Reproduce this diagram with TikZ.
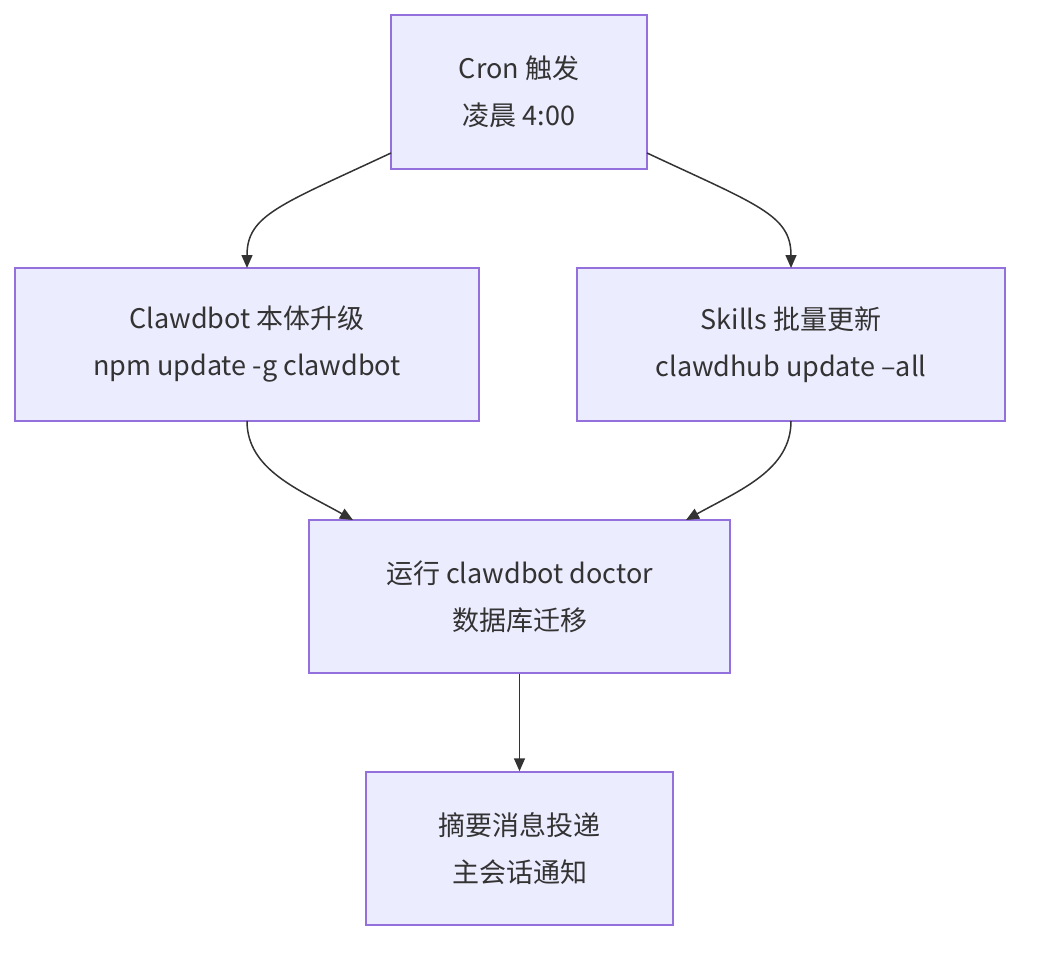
\documentclass[tikz,border=0pt]{standalone}
\usepackage{fontspec}
\setmainfont{Noto Sans CJK SC}
\usetikzlibrary{arrows.meta}
\definecolor{nfill}{HTML}{ECECFF}
\definecolor{nstroke}{HTML}{9370DB}
\definecolor{txt}{HTML}{333333}
\begin{document}
\begin{tikzpicture}[x=1pt,y=-1pt,
  box/.style={draw=nstroke,fill=nfill,line width=1.5pt,text=txt,align=center,font=\fontsize{27}{47}\selectfont,inner sep=0pt},
  edge/.style={draw=txt,line width=1.5pt,-{Triangle[length=13pt,width=11pt]}}]
\useasboundingbox (0,0) rectangle (1038,956);
\node[box,minimum width=256pt,minimum height=154pt] (cron) at (519,92) {Cron 触发\\凌晨 4:00};
\node[box,minimum width=464pt,minimum height=153pt] (cb) at (247,344.5) {Clawdbot 本体升级\\npm update -g clawdbot};
\node[box,minimum width=428pt,minimum height=153pt] (sk) at (791,344.5) {Skills 批量更新\\clawdhub update --all};
\node[box,minimum width=421pt,minimum height=153pt] (doc) at (519.5,596.5) {运行 clawdbot doctor\\数据库迁移};
\node[box,minimum width=307pt,minimum height=153pt] (sum) at (519.5,848.5) {摘要消息投递\\主会话通知};
\coordinate (c1) at (391,153);
\coordinate (c2) at (647,153);
\draw[edge] (c1) .. controls (280,205) and (247,215) .. (247,268);
\draw[edge] (c2) .. controls (758,205) and (791,215) .. (791,268);
\draw[edge] (247,421) .. controls (247,470) and (300,490) .. (353,520);
\draw[edge] (791,421) .. controls (791,470) and (740,490) .. (686,520);
\draw[edge] (doc) -- (sum);
\end{tikzpicture}
\end{document}
